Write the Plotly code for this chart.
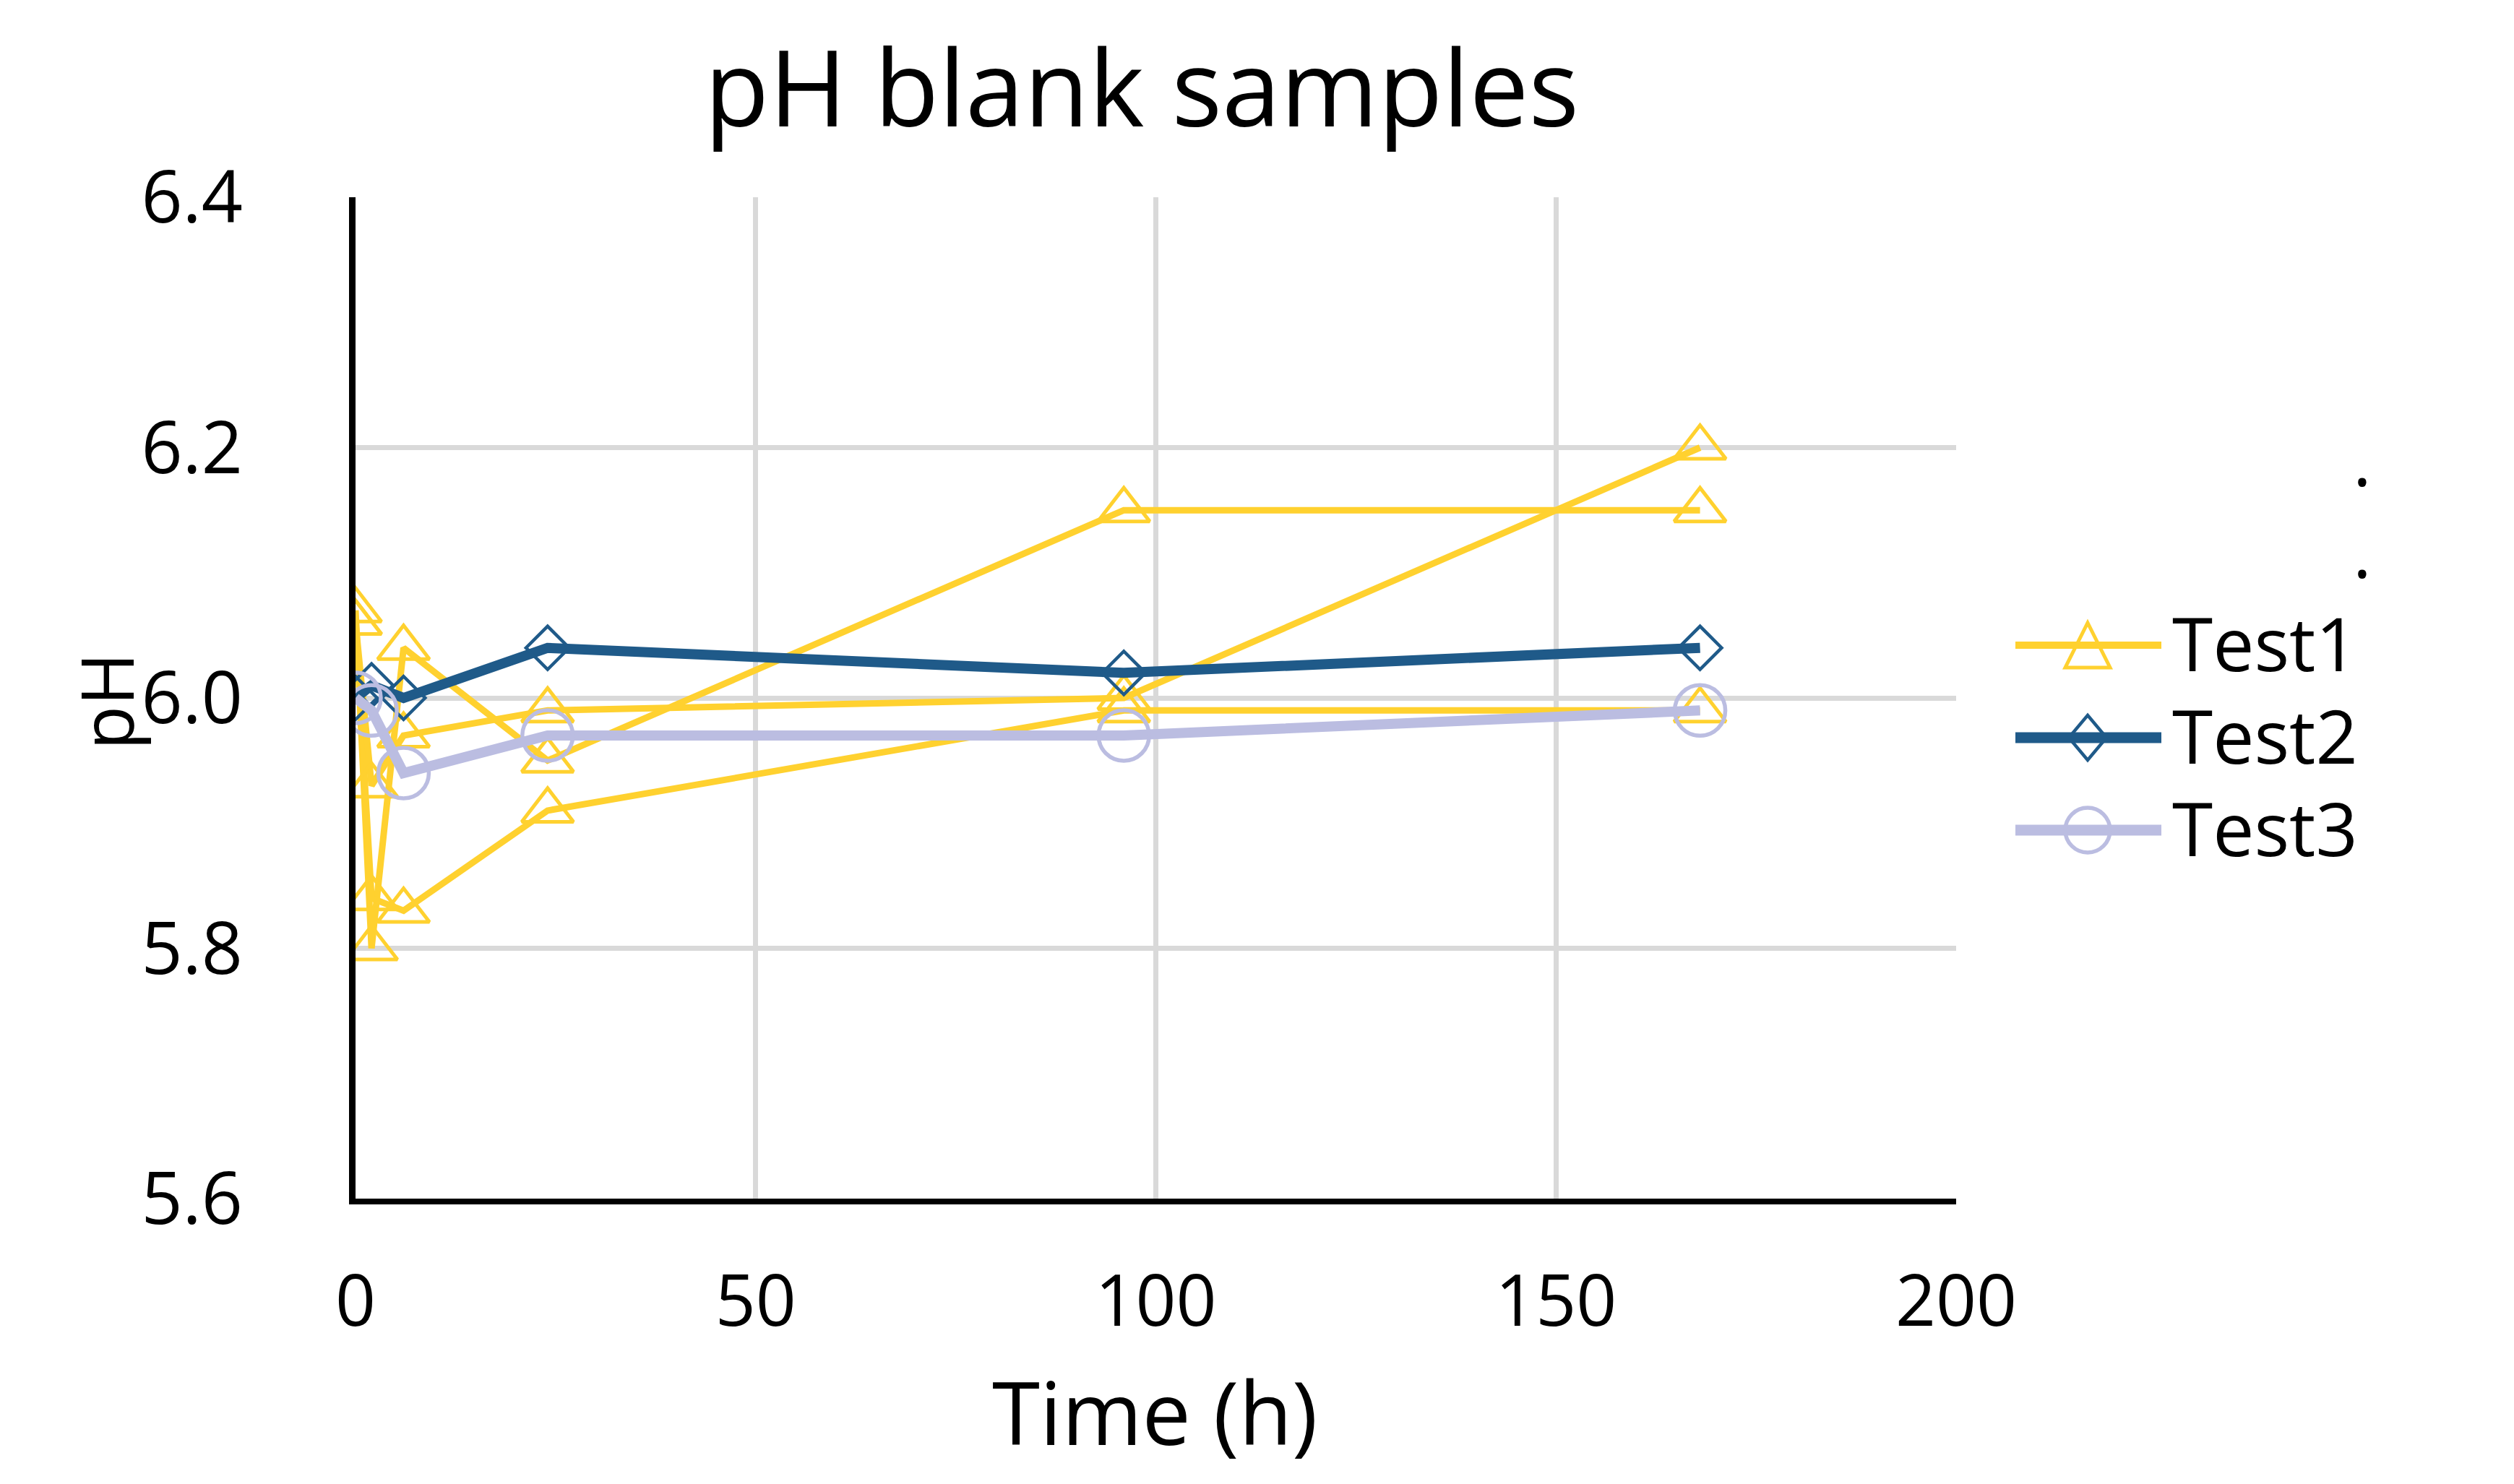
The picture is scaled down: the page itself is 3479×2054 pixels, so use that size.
import plotly.graph_objects as go

# ---------------- data ----------------
time_h = [0, 2, 6, 24, 96, 168]
test1_rep_a = [6.07, 5.80, 6.04, 5.95, 6.15, 6.15]
test1_rep_b = [6.06, 5.84, 5.83, 5.91, 5.99, 5.99]
test1_rep_c = [6.06, 5.93, 5.97, 5.99, 6.00, 6.20]
test2 = [6.00, 6.01, 6.00, 6.04, 6.02, 6.04]
test3 = [6.00, 5.99, 5.94, 5.97, 5.97, 5.99]
x_ticks = [0, 50, 100, 150, 200]
y_ticks = [5.6, 5.8, 6.0, 6.2, 6.4]
legend_names = ["Test1", "Test2", "Test3"]

# ---------------- style ----------------
W, H = 3479, 2054
L, R, T, B = 492, 772, 273, 395
FONT = "Open Sans"
YELLOW = "#FFD12F"
BLUE = "#1F5A89"
LAV = "#BBBDE1"
GRID = "#D9D9D9"

PW = W - L - R
PH = H - T - B


def px_x(X):
    return (X - L) / PW


def px_y(Y):
    return (H - B - Y) / PH


fig = go.Figure()

for reps in (test1_rep_a, test1_rep_b, test1_rep_c):
    fig.add_trace(go.Scatter(
        x=time_h, y=reps, mode="lines+markers", name="Test1", showlegend=False,
        line=dict(color=YELLOW, width=9),
        marker=dict(symbol="triangle-up-open", size=62, color=YELLOW,
                    line=dict(color=YELLOW, width=5)),
        hoverinfo="skip"))

fig.add_trace(go.Scatter(
    x=time_h, y=test2, mode="lines+markers", name="Test2", showlegend=False,
    line=dict(color=BLUE, width=14),
    marker=dict(symbol="diamond-open", size=46, color=BLUE,
                line=dict(color=BLUE, width=4.5)),
    hoverinfo="skip"))

fig.add_trace(go.Scatter(
    x=time_h, y=test3, mode="lines+markers", name="Test3", showlegend=False,
    line=dict(color=LAV, width=14),
    marker=dict(symbol="circle-open", size=70, color=LAV,
                line=dict(color=LAV, width=5.5)),
    hoverinfo="skip"))

annotations = []
shapes = []

# title
annotations.append(dict(text="pH blank samples", x=px_x(1580), y=px_y(118),
                        xref="paper", yref="paper", xanchor="center", yanchor="middle",
                        showarrow=False, font=dict(family=FONT, size=146, color="black")))
# x-axis title
annotations.append(dict(text="Time (h)", x=px_x(1598), y=px_y(1870),
                        xref="paper", yref="paper", xanchor="center", yanchor="top",
                        showarrow=False, font=dict(family=FONT, size=120, color="black")))
# y-axis title
annotations.append(dict(text="pH", x=px_x(146), y=px_y(970), textangle=-90,
                        xref="paper", yref="paper", xanchor="center", yanchor="middle",
                        showarrow=False, font=dict(family=FONT, size=100, color="black")))

# legend (custom drawn)
leg_y = [893, 1021, 1149]
leg_colors = [YELLOW, BLUE, LAV]
leg_widths = [10, 15, 15]
lx0, lx1, mx = 2789, 2991, 2889
for name, yy, col, lw in zip(legend_names, leg_y, leg_colors, leg_widths):
    shapes.append(dict(type="line", xref="paper", yref="paper",
                       x0=px_x(lx0), x1=px_x(lx1), y0=px_y(yy), y1=px_y(yy),
                       line=dict(color=col, width=lw)))
    annotations.append(dict(text=name, x=px_x(3004), y=px_y(yy - 4),
                            xref="paper", yref="paper", xanchor="left", yanchor="middle",
                            showarrow=False, font=dict(family=FONT, size=102, color="black")))

# legend markers
y1 = leg_y[0]
tri = "M {},{} L {},{} L {},{} Z".format(px_x(mx), px_y(y1 - 31), px_x(mx + 31), px_y(y1 + 31),
                                         px_x(mx - 31), px_y(y1 + 31))
shapes.append(dict(type="path", xref="paper", yref="paper", path=tri,
                   line=dict(color=YELLOW, width=5), fillcolor="rgba(0,0,0,0)"))
y2 = leg_y[1]
dia = "M {},{} L {},{} L {},{} L {},{} Z".format(px_x(mx), px_y(y2 - 31), px_x(mx + 26), px_y(y2),
                                                 px_x(mx), px_y(y2 + 31), px_x(mx - 26), px_y(y2))
shapes.append(dict(type="path", xref="paper", yref="paper", path=dia,
                   line=dict(color=BLUE, width=4.5), fillcolor="rgba(0,0,0,0)"))
y3 = leg_y[2]
shapes.append(dict(type="circle", xref="paper", yref="paper",
                   x0=px_x(mx - 31), x1=px_x(mx + 31), y0=px_y(y3 + 31), y1=px_y(y3 - 31),
                   line=dict(color=LAV, width=5.5), fillcolor="rgba(0,0,0,0)"))

# leftover legend dots
for yy in (668, 795):
    annotations.append(dict(text=".", x=px_x(3269), y=px_y(yy - 33),
                            xref="paper", yref="paper", xanchor="center", yanchor="middle",
                            showarrow=False, font=dict(family=FONT, size=98, color="black")))

fig.update_layout(
    width=W, height=H,
    margin=dict(l=L, r=R, t=T, b=B, pad=0),
    paper_bgcolor="white", plot_bgcolor="white",
    showlegend=False,
    annotations=annotations, shapes=shapes,
    font=dict(family=FONT, color="black"),
)

fig.update_xaxes(
    range=[0, 200], tickvals=x_ticks, ticktext=[str(v) for v in x_ticks],
    showgrid=True, gridcolor=GRID, gridwidth=7,
    showline=True, linecolor="black", linewidth=8,
    ticks="outside", ticklen=50, tickcolor="rgba(0,0,0,0)",
    tickfont=dict(family=FONT, size=98, color="black"), zeroline=False,
)
fig.update_yaxes(
    range=[5.6, 6.4], tickvals=y_ticks, ticktext=["{:.1f}".format(v) for v in y_ticks],
    showgrid=True, gridcolor=GRID, gridwidth=7,
    showline=True, linecolor="black", linewidth=9,
    ticks="outside", ticklen=127, tickcolor="rgba(0,0,0,0)",
    tickfont=dict(family=FONT, size=100, color="black"), zeroline=False,
)

fig.write_html("out.html", config={"displayModeBar": False})
